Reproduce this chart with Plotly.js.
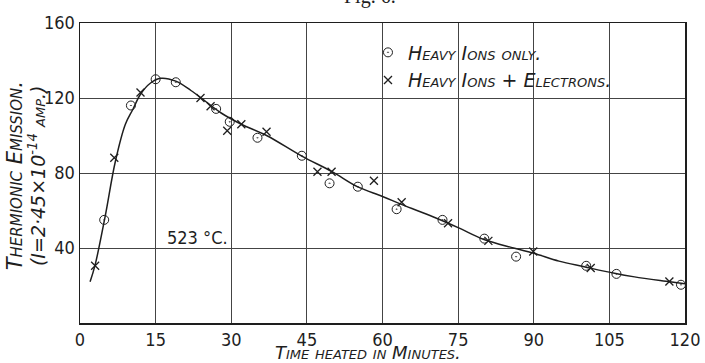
<!DOCTYPE html>
<html>
<head>
<meta charset="utf-8">
<script src="https://cdn.plot.ly/plotly-3.0.1.min.js"></script>
<style>html,body{margin:0;padding:0;background:#fff;}#chart{width:705px;height:363px;}</style>
</head>
<body>
<div id="chart"></div>
<script>
// Heavy ions only (circles with dot)
const ionsOnlyTime = [4.8, 10.1, 15.0, 19.0, 27.0, 29.7, 35.2, 44.0, 49.5, 55.1, 62.8, 71.9, 80.2, 86.5, 100.4, 106.4, 119.2];
const ionsOnlyEmission = [55, 116, 130, 128.4, 114.2, 107.3, 98.8, 89.2, 74.5, 72.7, 60.7, 55, 45, 35.4, 30.5, 26.2, 20.4];

// Heavy ions + electrons (crosses)
const ionsElecTime = [3.0, 6.8, 12.0, 23.9, 25.9, 29.2, 32.0, 37.0, 47.1, 49.9, 58.3, 63.8, 73.0, 81.0, 89.9, 101.3, 116.9];
const ionsElecEmission = [30.5, 88.1, 122.9, 120, 115.6, 102.5, 106, 102, 80.7, 80.7, 75.9, 64.4, 53.2, 43.8, 38.1, 29.3, 22.1];

// Smooth hand-drawn curve
const curveTime = [2, 3, 5, 7, 9, 10.5, 12, 14, 16, 19, 22, 25, 28, 32, 37, 44, 50, 55, 60, 64, 70, 75, 80, 86, 90, 95, 100, 106, 110, 117, 120];
const curveEmission = [22, 31, 57, 86, 106, 114, 122, 128, 130.5, 129, 124, 118, 112, 106, 100, 89, 80.7, 72.7, 67.5, 63, 56.7, 50.9, 44.7, 40, 37.2, 33, 30, 26.5, 24.6, 22, 20.9];

const xTicks = [0, 15, 30, 45, 60, 75, 90, 105, 120];
const yTicks = [40, 80, 120, 160];

const ink = '#1e1e1e';
const tickFontFamily = 'DejaVu Sans Condensed, Liberation Sans Narrow, DejaVu Sans, sans-serif';
const letterFont = 'DejaVu Sans, Liberation Sans, sans-serif';
const serifFont = 'Liberation Serif, DejaVu Serif, serif';

const traces = [
  {
    x: curveTime, y: curveEmission, mode: 'lines', type: 'scatter',
    line: {color: ink, width: 1.5, shape: 'spline', smoothing: 1},
    showlegend: false, hoverinfo: 'skip'
  },
  {
    x: ionsOnlyTime, y: ionsOnlyEmission, mode: 'markers', type: 'scatter',
    name: 'Heavy Ions only.',
    marker: {symbol: 'circle-open-dot', size: 9, color: ink, line: {width: 1, color: ink}}
  },
  {
    x: ionsElecTime, y: ionsElecEmission, mode: 'markers', type: 'scatter',
    name: 'Heavy Ions + Electrons.',
    marker: {symbol: 'x-thin-open', size: 8, color: ink, line: {width: 1.3, color: ink}}
  }
];

const layout = {
  width: 705, height: 363,
  margin: {l: 80, r: 20, t: 23, b: 40},
  paper_bgcolor: '#ffffff', plot_bgcolor: '#ffffff',
  showlegend: true,
  legend: {
    x: 0.476, y: 0.965, xanchor: 'left', yanchor: 'top',
    bgcolor: 'rgba(0,0,0,0)', borderwidth: 0,
    font: {family: letterFont, size: 19, color: ink, style: 'italic', variant: 'small-caps'},
    tracegroupgap: 0
  },
  xaxis: {
    range: [0, 120], tickvals: xTicks, ticktext: xTicks.map(String),
    showgrid: true, gridcolor: '#444', gridwidth: 1,
    showline: true, linecolor: ink, linewidth: 1.5, mirror: true,
    ticks: '', zeroline: false,
    tickfont: {family: tickFontFamily, size: 18, color: ink}
  },
  yaxis: {
    range: [0, 160], tickvals: yTicks, ticktext: yTicks.map(String),
    showgrid: true, gridcolor: '#444', gridwidth: 1,
    showline: true, linecolor: ink, linewidth: 1.5, mirror: true,
    ticks: '', zeroline: false,
    tickfont: {family: tickFontFamily, size: 18, color: ink}
  },
  annotations: [
    {
      text: 'Fig. 6.', xref: 'paper', yref: 'paper', x: 0.48, y: 1.045,
      xanchor: 'center', yanchor: 'bottom', showarrow: false,
      font: {family: serifFont, size: 20, color: ink}
    },
    {
      text: 'Time heated in Minutes.', xref: 'paper', yref: 'paper', x: 0.476, y: -0.136,
      xanchor: 'center', yanchor: 'bottom', showarrow: false, borderpad: 0,
      font: {family: letterFont, size: 18, color: ink, style: 'italic', variant: 'small-caps'}
    },
    {
      text: 'Thermionic Emission.', xref: 'paper', yref: 'paper', x: -0.107, y: 0.49,
      xanchor: 'center', yanchor: 'middle', showarrow: false, textangle: -90,
      font: {family: letterFont, size: 21, color: ink, style: 'italic', variant: 'small-caps'}
    },
    {
      text: '(I=2·45×10<sup>-14</sup> amp.)', xref: 'paper', yref: 'paper', x: -0.071, y: 0.49,
      xanchor: 'center', yanchor: 'middle', showarrow: false, textangle: -90,
      font: {family: letterFont, size: 19, color: ink, style: 'italic', variant: 'small-caps'}
    },
    {
      text: '523 °C.', xref: 'x', yref: 'y', x: 23.4, y: 45.4,
      xanchor: 'center', yanchor: 'middle', showarrow: false,
      font: {family: tickFontFamily, size: 18, color: ink}
    }
  ]
};

Plotly.newPlot('chart', traces, layout, {displayModeBar: false, staticPlot: true});
</script>
</body>
</html>
